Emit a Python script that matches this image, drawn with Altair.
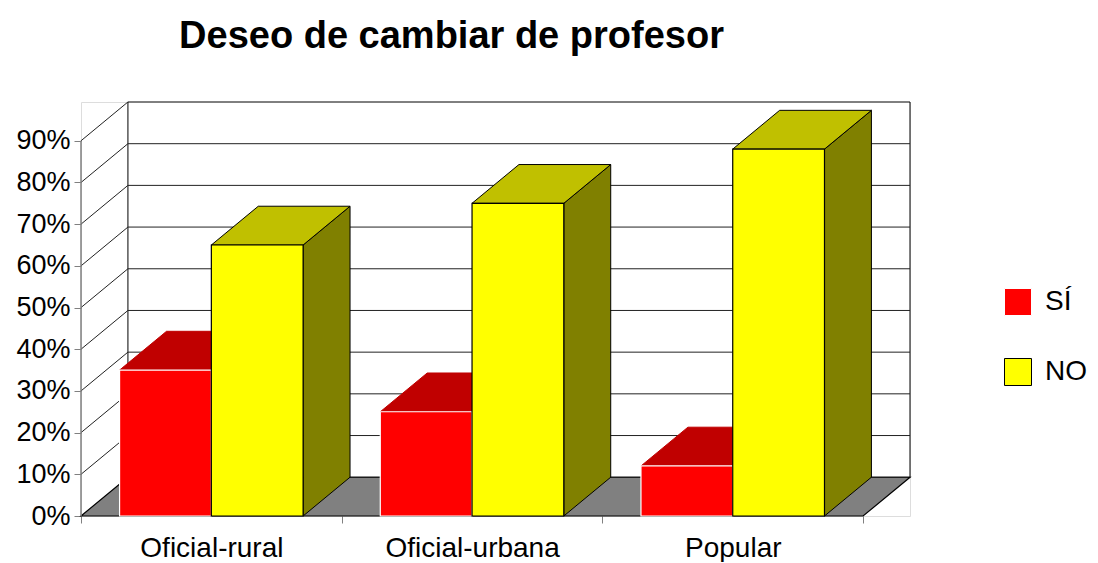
import altair as alt
import pandas as pd

# ---- data ----
categories = ["Oficial-rural", "Oficial-urbana", "Popular"]
series = ["SÍ", "NO"]
si_values = [35, 25, 12]
no_values = [65, 75, 88]
y_ticks = [0, 10, 20, 30, 40, 50, 60, 70, 80, 90]

# ---- pseudo-3D geometry (in scale units) ----
GAP = 0.148      # space before first bar inside a category
BW = 0.352       # bar width
DX = 0.18        # depth offset along x
DY = 9.3         # depth offset along y (percent units)
TOP = 90         # top of the value axis
NCAT = len(categories)

front_rows, top_rows, side_rows = [], [], []
for i, cat in enumerate(categories):
    for j, (s, vals) in enumerate(zip(series, [si_values, no_values])):
        v = vals[i]
        xa = i + GAP + j * BW
        xb = xa + BW
        bid = f"{cat}-{s}"
        front_rows.append(dict(id=bid, cat=cat, series=s, xa=xa, xb=xb, y0=0, v=v))
        top_rows += [dict(id=bid, series=s, y=v, xa=xa, xb=xb),
                     dict(id=bid, series=s, y=v + DY, xa=xa + DX, xb=xb + DX)]
        side_rows += [dict(id=bid, series=s, x=xb, ylo=0, yhi=v),
                      dict(id=bid, series=s, x=xb + DX, ylo=DY, yhi=v + DY)]

fronts = pd.DataFrame(front_rows)
tops = pd.DataFrame(top_rows)
sides = pd.DataFrame(side_rows)

floor = pd.DataFrame(dict(y=[0, DY], xa=[0, DX], xb=[NCAT, NCAT + DX]))
wall = pd.DataFrame(dict(xa=[DX], xb=[NCAT + DX], ya=[DY], yb=[TOP + DY]))
back_grid = pd.DataFrame(dict(y=[t + DY for t in y_ticks[1:-1]], xa=DX, xb=NCAT + DX))
side_grid = pd.DataFrame(dict(ya=y_ticks[1:], yb=[t + DY for t in y_ticks[1:]], xa=0, xb=DX))
yaxis_line = pd.DataFrame(dict(x=[0], ya=[0], yb=[TOP]))

FONT = "Liberation Sans"
xscale = alt.Scale(domain=[0, NCAT + DX], nice=False, zero=False)
yscale = alt.Scale(domain=[0, TOP + DY], nice=False, zero=False)
label_expr = " : ".join(
    [f"datum.value == {i} ? '{c}'" for i, c in enumerate(categories)]) + " : ''"
xaxis = alt.Axis(values=list(range(NCAT + 1)), title=None, grid=False, domain=False,
                 tickSize=7, tickColor="#808080", labelOffset=130.4,
                 labelExpr=label_expr, labelFontSize=28, labelFont=FONT,
                 labelColor="black", labelPadding=11, labelFlush=False,
                 labelOverlap=False, labelBound=False)
yaxis = alt.Axis(values=y_ticks, title=None, grid=False, domain=False,
                 tickSize=7, tickColor="#808080", labelExpr="datum.value + '%'",
                 labelFontSize=27, labelFont=FONT, labelColor="black",
                 labelPadding=4, labelOverlap=False)


def X(f):
    return alt.X(f, scale=xscale, axis=xaxis)


def Y(f):
    return alt.Y(f, scale=yscale, axis=yaxis)


wall_l = alt.Chart(wall).mark_rect(fill="white", stroke="black", strokeWidth=1).encode(
    x=X("xa:Q"), x2="xb:Q", y=Y("ya:Q"), y2="yb:Q")
back_grid_l = alt.Chart(back_grid).mark_rule(color="#222222", strokeWidth=1).encode(
    x=X("xa:Q"), x2="xb:Q", y=Y("y:Q"))
side_grid_l = alt.Chart(side_grid).mark_rule(color="#222222", strokeWidth=1).encode(
    x=X("xa:Q"), x2="xb:Q", y=Y("ya:Q"), y2="yb:Q")
yaxis_l = alt.Chart(yaxis_line).mark_rule(color="#808080", strokeWidth=1.5).encode(
    x=X("x:Q"), y=Y("ya:Q"), y2="yb:Q")
floor_l = alt.Chart(floor).mark_area(orient="horizontal", fill="#808080",
                                     stroke="black", strokeWidth=1.2).encode(
    y=Y("y:Q"), x=X("xa:Q"), x2="xb:Q")

side_colors = {"SÍ": ("#800000", "#800000"), "NO": ("#808000", "black")}
top_colors = {"SÍ": ("#C00000", "#C00000"), "NO": ("#C0C000", "black")}

side_layers = [
    alt.Chart(sides[sides.series == s]).mark_area(
        orient="vertical", fill=side_colors[s][0], stroke=side_colors[s][1],
        strokeWidth=1, opacity=1).encode(
        x=X("x:Q"), y=Y("ylo:Q"), y2="yhi:Q", detail="id:N")
    for s in series]
top_layers = [
    alt.Chart(tops[tops.series == s]).mark_area(
        orient="horizontal", fill=top_colors[s][0], stroke=top_colors[s][1],
        strokeWidth=1, opacity=1).encode(
        y=Y("y:Q"), x=X("xa:Q"), x2="xb:Q", detail="id:N")
    for s in series]

legend = alt.Legend(title=None, orient="none", legendX=923, legendY=186,
                    symbolType="square", symbolSize=729, symbolStrokeWidth=1,
                    labelFontSize=28, labelFont=FONT, labelColor="black",
                    labelOffset=13, rowPadding=38, padding=0)
front_l = alt.Chart(fronts).mark_rect(strokeWidth=1.2).encode(
    x=X("xa:Q"), x2="xb:Q", y=Y("y0:Q"), y2="v:Q",
    fill=alt.Fill("series:N", scale=alt.Scale(domain=series, range=["#FF0000", "#FFFF00"]),
                  legend=legend),
    stroke=alt.Stroke("series:N", scale=alt.Scale(domain=series, range=["#FFFFFF", "#000000"]),
                      legend=legend),
)

chart = alt.layer(
    wall_l, back_grid_l, side_grid_l, floor_l, yaxis_l,
    *side_layers, *top_layers, front_l,
).properties(
    width=829, height=414,
    autosize=alt.AutoSizeParams(type="none"),
    padding={"left": 73, "top": 94, "right": 180, "bottom": 46},
    title=alt.TitleParams("Deseo de cambiar de profesor", font=FONT, fontSize=38,
                          fontWeight="bold", color="black", anchor="middle",
                          dx=-44, offset=46),
).configure_view(stroke=None).configure(background="white")

chart.save("out.html", embed_options={"renderer": "svg", "actions": False})
